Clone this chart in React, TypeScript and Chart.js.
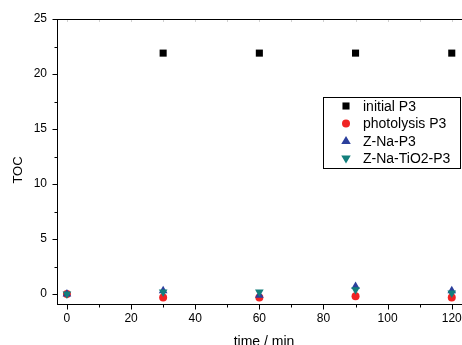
import React, { useEffect, useRef } from "react";
import { Chart, registerables } from "chart.js";

Chart.register(...registerables);

const times = [0, 30, 60, 90, 120];
const initialP3 = [null, 21.9, 21.9, 21.9, 21.9];
const photolysisP3 = [0, -0.3, -0.3, -0.2, -0.3];
const zNaP3 = [0, 0.3, -0.1, 0.7, 0.3];
const zNaTiO2P3 = [0, 0.2, 0.2, 0.4, 0.1];

const seriesNames = ["initial P3", "photolysis P3", "Z-Na-P3", "Z-Na-TiO2-P3"];
const xTicksMajor = [0, 20, 40, 60, 80, 100, 120];
const xTicksMinor = [10, 30, 50, 70, 90, 110];
const yTicksMajor = [0, 5, 10, 15, 20, 25];
const yTicksMinor = [2.5, 7.5, 12.5, 17.5, 22.5];

const FONT = "'Liberation Sans', Arial, sans-serif";

const toPoints = (ys: (number | null)[]) =>
  times.map((t, i) => ({ x: t, y: ys[i] })).filter((p) => p.y !== null);

function drawMarker(ctx: CanvasRenderingContext2D, style: string, r: number, rot: number, x: number, y: number) {
  ctx.save();
  ctx.translate(x, y);
  ctx.rotate((rot * Math.PI) / 180);
  ctx.beginPath();
  if (style === "rect") {
    const s = r * Math.SQRT1_2;
    ctx.rect(-s, -s, 2 * s, 2 * s);
  } else if (style === "circle") {
    ctx.arc(0, 0, r, 0, Math.PI * 2);
  } else {
    ctx.moveTo(0, -r);
    ctx.lineTo(r * 0.95, r * 0.6);
    ctx.lineTo(-r * 0.95, r * 0.6);
    ctx.closePath();
  }
  ctx.fill();
  ctx.restore();
}

const axesPlugin = {
  id: "axesPlugin",
  afterDraw(chart: any) {
    const { ctx, chartArea, scales } = chart;
    const xs = scales.x;
    const ys = scales.y;
    ctx.save();
    // faint top ticks
    ctx.strokeStyle = "#d0d0d0";
    ctx.lineWidth = 1;
    ctx.beginPath();
    [...xTicksMajor, ...xTicksMinor].forEach((v) => {
      const px = Math.round(xs.getPixelForValue(v)) + 0.5;
      ctx.moveTo(px, Math.round(chartArea.top) + 1);
      ctx.lineTo(px, Math.round(chartArea.top) + 3);
    });
    ctx.stroke();

    ctx.strokeStyle = "#000";
    // top line
    ctx.beginPath();
    ctx.moveTo(chartArea.left, Math.round(chartArea.top) + 0.5);
    ctx.lineTo(chartArea.right, Math.round(chartArea.top) + 0.5);
    ctx.stroke();
    const bottom = Math.round(chartArea.bottom) + 0.5;
    const left = Math.round(chartArea.left) + 0.5;
    ctx.beginPath();
    xTicksMajor.forEach((v) => {
      const px = Math.round(xs.getPixelForValue(v)) + 0.5;
      ctx.moveTo(px, bottom);
      ctx.lineTo(px, bottom + 5);
    });
    xTicksMinor.forEach((v) => {
      const px = Math.round(xs.getPixelForValue(v)) + 0.5;
      ctx.moveTo(px, bottom);
      ctx.lineTo(px, bottom + 3);
    });
    yTicksMajor.forEach((v) => {
      const py = Math.round(ys.getPixelForValue(v)) + 0.5;
      ctx.moveTo(left, py);
      ctx.lineTo(left - 5, py);
    });
    yTicksMinor.forEach((v) => {
      const py = Math.round(ys.getPixelForValue(v)) + 0.5;
      ctx.moveTo(left, py);
      ctx.lineTo(left - 3, py);
    });
    ctx.stroke();

    // y title
    ctx.fillStyle = "#000";
    ctx.font = `13px ${FONT}`;
    ctx.textAlign = "center";
    ctx.textBaseline = "middle";
    ctx.save();
    ctx.translate(18, 170);
    ctx.rotate(-Math.PI / 2);
    ctx.fillText("TOC", 0, 0);
    ctx.restore();

    // legend
    const bx = 323.5, by = 97.5, bw = 137, bh = 71;
    ctx.strokeStyle = "#000";
    ctx.strokeRect(bx, by, bw, bh);
    const rows = [106, 123.5, 141, 158.5];
    ctx.font = `14px ${FONT}`;
    ctx.textAlign = "left";
    chart.data.datasets.forEach((ds: any, i: number) => {
      ctx.fillStyle = ds.backgroundColor;
      drawMarker(ctx, ds.pointStyle, ds.pointRadius, ds.rotation || 0, 346, rows[i]);
      ctx.fillStyle = "#000";
      ctx.fillText(seriesNames[i], 363, rows[i] + 1);
    });
    ctx.restore();
  },
};

export default function App() {
  const ref = useRef<HTMLCanvasElement>(null);
  useEffect(() => {
    document.body.style.margin = "0";
    const colors = ["#000000", "#f02424", "#2b3f9c", "#137f7c"];
    const chart = new Chart(ref.current!, {
      type: "scatter",
      data: {
        datasets: [
          { label: seriesNames[0], data: toPoints(initialP3), pointStyle: "rect", pointRadius: 5, backgroundColor: colors[0], borderColor: colors[0], borderWidth: 0, order: 4 },
          { label: seriesNames[1], data: toPoints(photolysisP3), pointStyle: "circle", pointRadius: 4, backgroundColor: colors[1], borderColor: colors[1], borderWidth: 0, order: 3 },
          { label: seriesNames[2], data: toPoints(zNaP3), pointStyle: "triangle", pointRadius: 5, backgroundColor: colors[2], borderColor: colors[2], borderWidth: 0, order: 2 },
          { label: seriesNames[3], data: toPoints(zNaTiO2P3), pointStyle: "triangle", rotation: 180, pointRadius: 5, backgroundColor: colors[3], borderColor: colors[3], borderWidth: 0, order: 1 } as any,
        ],
      },
      plugins: [axesPlugin],
      options: {
        animation: false,
        responsive: false,
        maintainAspectRatio: false,
        layout: { padding: { left: 0, right: 0, top: 19, bottom: 0 } },
        plugins: { legend: { display: false }, tooltip: { enabled: false } },
        scales: {
          x: {
            type: "linear",
            min: -3.1,
            max: 126,
            grid: { display: false, drawTicks: false },
            border: { display: true, color: "#000", width: 1 },
            ticks: {
              includeBounds: false,
              stepSize: 20,
              padding: 7,
              color: "#000",
              font: { family: FONT, size: 12 },
              maxRotation: 0,
              callback: (v: any) => (xTicksMajor.includes(v) ? String(v) : ""),
            },
            title: {
              display: true,
              text: "time / min",
              color: "#000",
              font: { family: FONT, size: 14 },
              padding: { top: 0, bottom: 4 },
            },
            afterFit: (s: any) => { s.height = 51; },
          },
          y: {
            type: "linear",
            min: -0.9,
            max: 25,
            grid: { display: false, drawTicks: false },
            border: { display: true, color: "#000", width: 1 },
            ticks: {
              includeBounds: false,
              stepSize: 5,
              padding: 10,
              color: "#000",
              font: { family: FONT, size: 12 },
              callback: (v: any) => (yTicksMajor.includes(v) ? String(v) : ""),
            },
            afterFit: (s: any) => { s.width = 57; },
          },
        },
      },
    } as any);
    return () => chart.destroy();
  }, []);
  return (
    <div style={{ width: 462, height: 345, overflow: "hidden", position: "relative", background: "#fff" }}>
      <canvas ref={ref} width={476} height={355} style={{ display: "block" }} />
    </div>
  );
}
